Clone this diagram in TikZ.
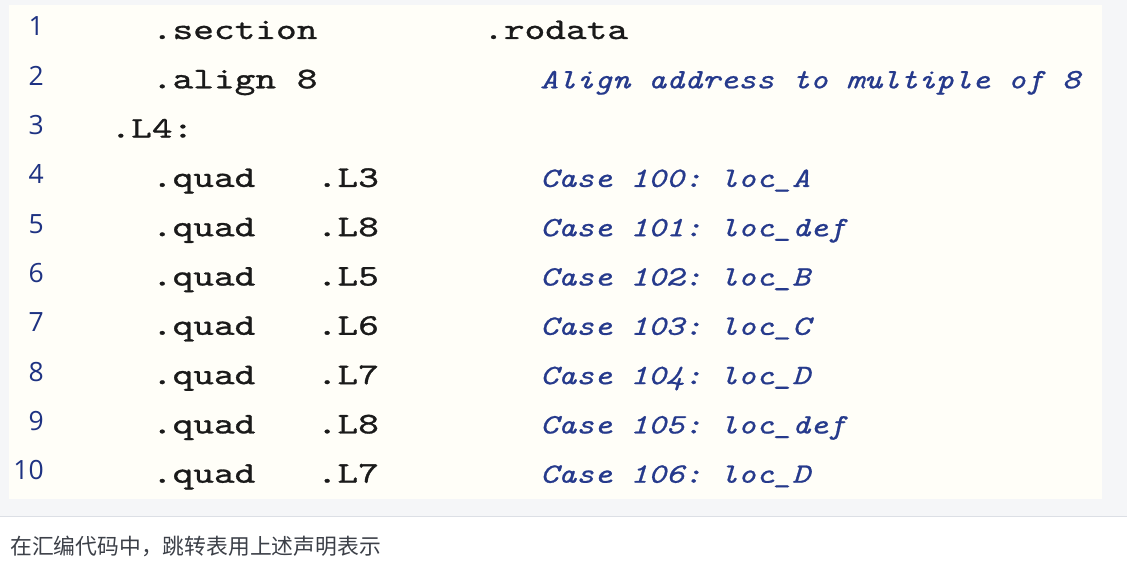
\documentclass[tikz,border=0pt]{standalone}
\usepackage{fontspec}
\newfontfamily\codefont{lmmono10-regular.otf}[FakeStretch=1.314,FakeBold=1.0]
\newfontfamily\cmtfont{lmmono10-italic.otf}[FakeStretch=1.224,FakeBold=0.8]
\newfontfamily\numfont{Open Sans}
\newfontfamily\cjk{Noto Sans CJK SC}
\definecolor{outerbg}{HTML}{F5F6F8}
\definecolor{panelbg}{HTML}{FFFEF8}
\definecolor{rulegray}{HTML}{DCDFE5}
\definecolor{codeblack}{HTML}{1A1A1A}
\definecolor{cmtblue}{RGB}{38,58,140}
\definecolor{numblue}{RGB}{30,50,130}
\definecolor{capgray}{HTML}{3C4048}
\begin{document}
\begin{tikzpicture}[x=1pt,y=-1pt,
  code/.style={inner sep=0pt, anchor=base west, text=codeblack, font=\codefont\fontsize{30}{32}\selectfont\frenchspacing},
  cmt/.style={inner sep=0pt, anchor=base west, text=cmtblue, font=\cmtfont\fontsize{28}{30}\selectfont\frenchspacing},
  lnum/.style={inner sep=0pt, anchor=base east, text=numblue, font=\numfont\fontsize{26.5}{28}\selectfont},
  caption/.style={inner sep=0pt, anchor=west, text=capgray, font=\cjk\fontsize{21.8}{24}\selectfont}]
\useasboundingbox (0,0) rectangle (1127,564);
% backgrounds
\fill[white] (0,0) rectangle (1127,564);
\fill[outerbg] (0,0) rectangle (1127,516);
\fill[panelbg] (9,5) rectangle (1102,499);
\draw[rulegray, line width=1.5pt] (0,516.5) -- (1127,516.5);
% line numbers
\foreach \i in {1,...,10}{
  \node[lnum] (n\i) at (44, {39+(\i-1)*49.3-3}) {\i};
}
% line 1
\node[code] (s1) at (151.7, 39) {.section};
\node[code] (r1) at (483, 39) {.rodata};
% line 2
\node[code] (s2) at (151.7, 88.3) {.align 8};
\node[cmt] (c2) at (540, 88.3) {Align address to multiple of 8};
% line 3
\node[code] (s3) at (110.3, 137.6) {.L4:};
% lines 4-10
\node[code] (q4) at (151.7, 186.9) {.quad};
\node[code] (l4) at (316.6, 186.9) {.L3};
\node[cmt] (c4) at (540, 186.9) {Case 100: loc\_A};
\node[code] (q5) at (151.7, 236.2) {.quad};
\node[code] (l5) at (316.6, 236.2) {.L8};
\node[cmt] (c5) at (540, 236.2) {Case 101: loc\_def};
\node[code] (q6) at (151.7, 285.5) {.quad};
\node[code] (l6) at (316.6, 285.5) {.L5};
\node[cmt] (c6) at (540, 285.5) {Case 102: loc\_B};
\node[code] (q7) at (151.7, 334.8) {.quad};
\node[code] (l7) at (316.6, 334.8) {.L6};
\node[cmt] (c7) at (540, 334.8) {Case 103: loc\_C};
\node[code] (q8) at (151.7, 384.1) {.quad};
\node[code] (l8) at (316.6, 384.1) {.L7};
\node[cmt] (c8) at (540, 384.1) {Case 104: loc\_D};
\node[code] (q9) at (151.7, 433.4) {.quad};
\node[code] (l9) at (316.6, 433.4) {.L8};
\node[cmt] (c9) at (540, 433.4) {Case 105: loc\_def};
\node[code] (q10) at (151.7, 482.7) {.quad};
\node[code] (l10) at (316.6, 482.7) {.L7};
\node[cmt] (c10) at (540, 482.7) {Case 106: loc\_D};
% caption
\node[caption] (cap) at (10, 546) {在汇编代码中，跳转表用上述声明表示};
\end{tikzpicture}
\end{document}
